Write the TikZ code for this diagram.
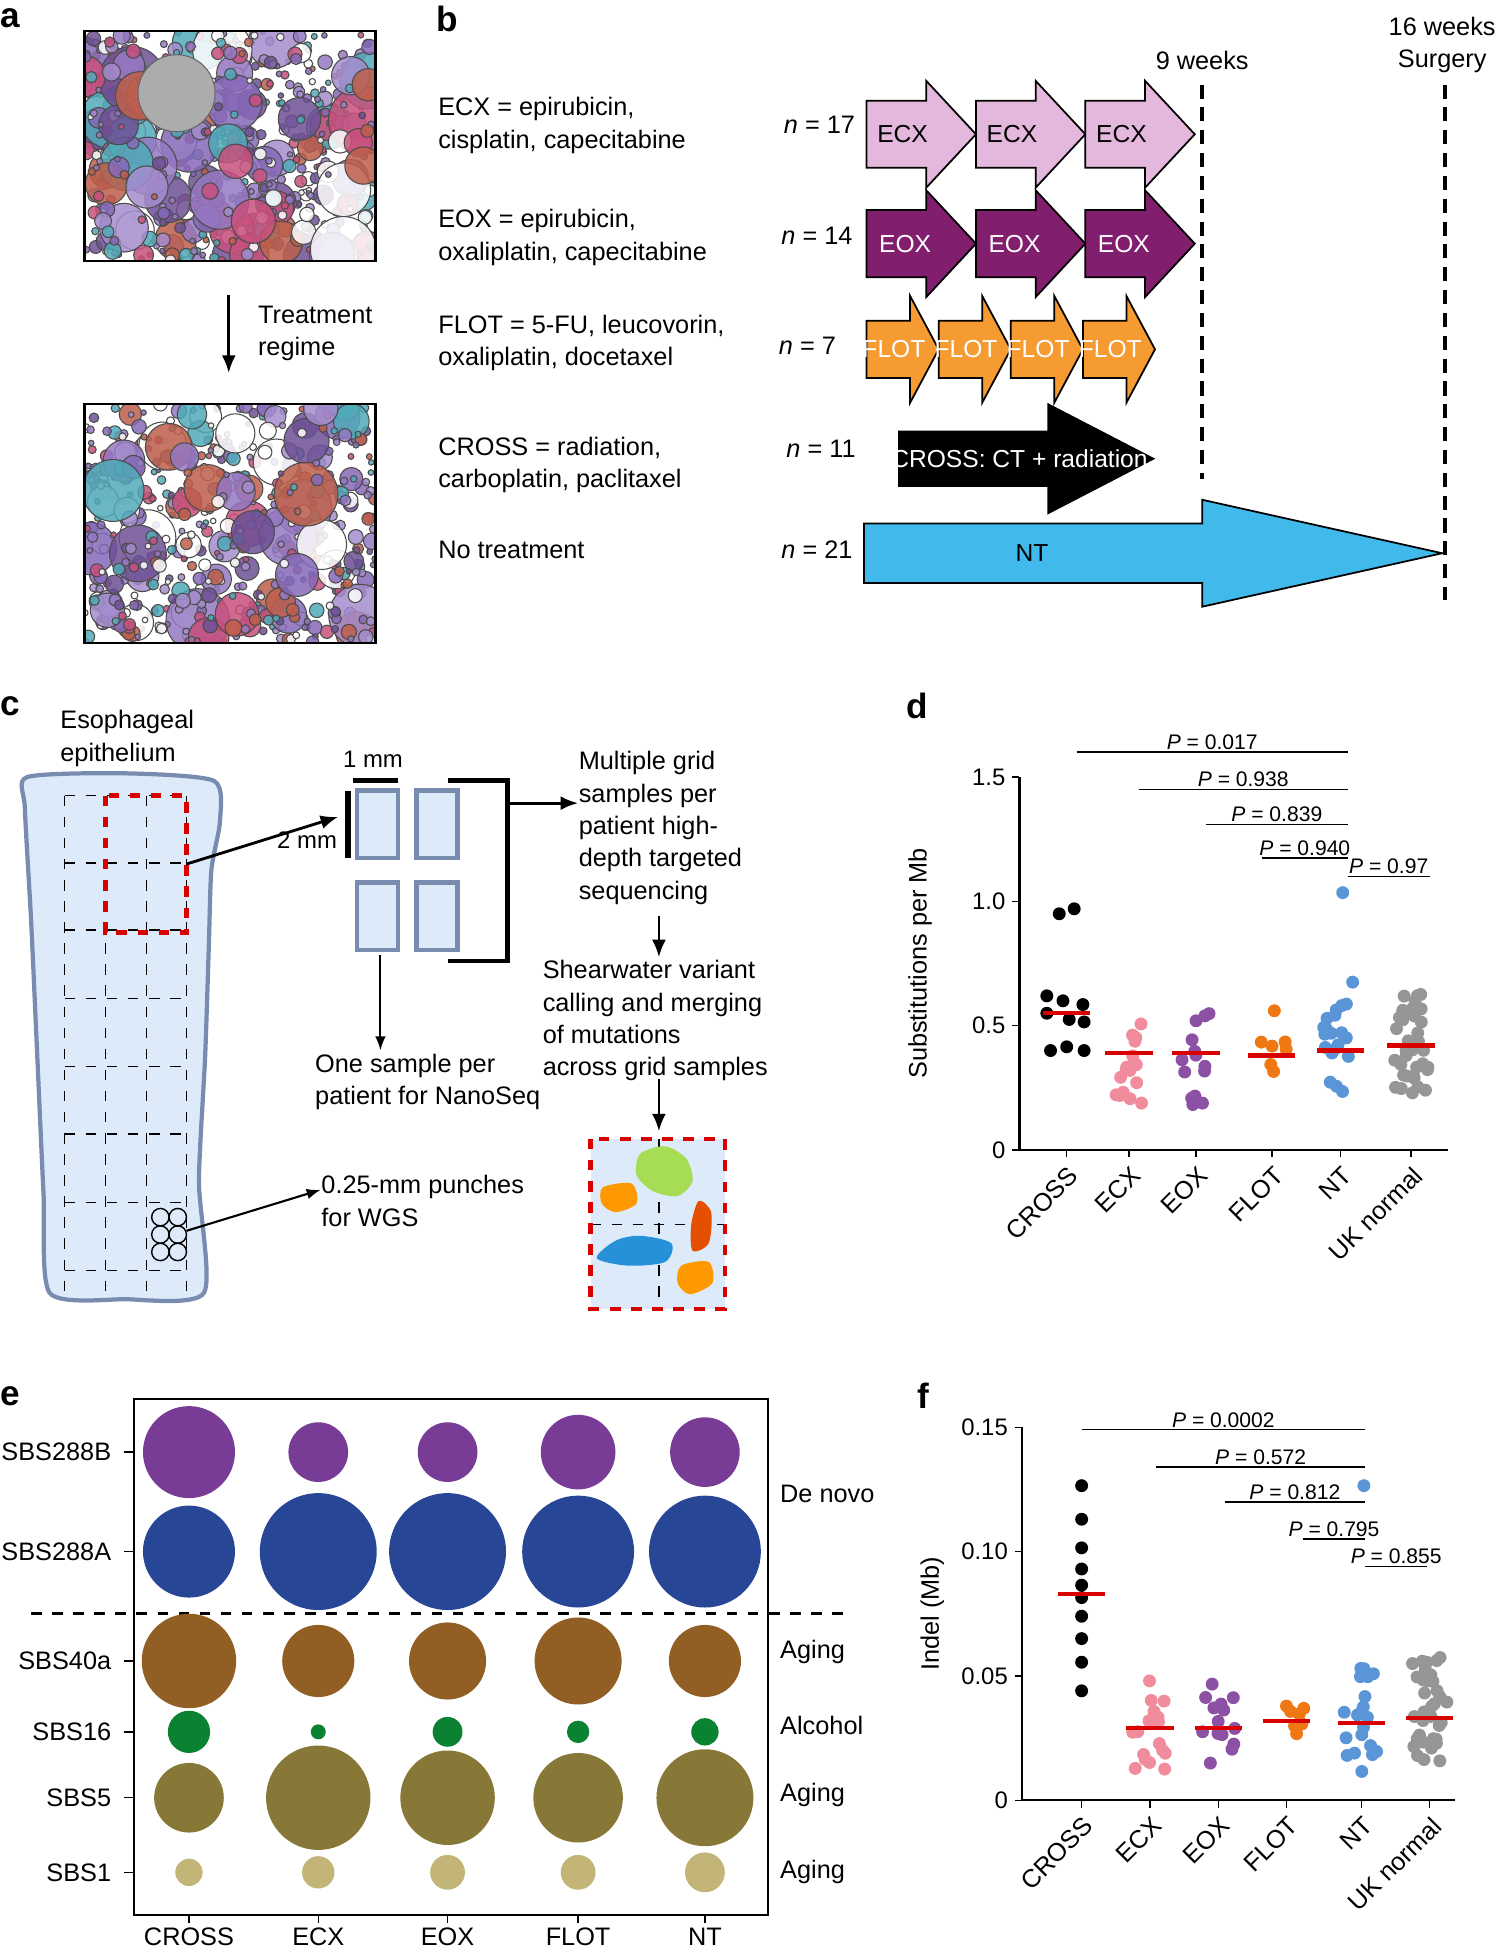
\documentclass[tikz,border=0pt]{standalone}
\usepackage{fontspec}
\setmainfont{Liberation Sans}
\usetikzlibrary{arrows.meta,positioning}

\definecolor{pa1}{RGB}{150,120,195}
\definecolor{pa2}{RGB}{190,95,75}
\definecolor{pa3}{RGB}{80,170,185}
\definecolor{pa4}{RGB}{200,80,125}
\definecolor{pa5}{RGB}{110,80,150}
\definecolor{pa6}{RGB}{255,255,255}
\definecolor{pa7}{RGB}{165,140,205}
\definecolor{pa8}{RGB}{135,105,185}
\definecolor{ecxc}{RGB}{228,184,220}
\definecolor{eoxc}{RGB}{130,30,110}
\definecolor{flotc}{RGB}{245,155,50}
\definecolor{ntc}{RGB}{65,185,235}
\definecolor{tissue}{RGB}{220,234,250}
\definecolor{tissued}{RGB}{120,140,175}
\definecolor{dk}{RGB}{0,0,0}
\definecolor{dpink}{RGB}{240,140,155}
\definecolor{dpurp}{RGB}{140,80,165}
\definecolor{dora}{RGB}{240,120,20}
\definecolor{dblue}{RGB}{90,150,215}
\definecolor{dgray}{RGB}{150,150,150}
\definecolor{s288b}{RGB}{120,60,150}
\definecolor{s288a}{RGB}{40,70,150}
\definecolor{s40a}{RGB}{145,95,35}
\definecolor{s16}{RGB}{10,130,50}
\definecolor{s5}{RGB}{135,120,55}
\definecolor{s1}{RGB}{195,180,120}

\tikzset{
  txt/.style={anchor=west, align=left, inner sep=0pt, font=\fontsize{7.2}{9.2}\selectfont},
  panel/.style={font=\bfseries\fontsize{10}{12}\selectfont, inner sep=0pt},
  tick/.style={font=\fontsize{6.8}{8}\selectfont, inner sep=1pt},
  pval/.style={font=\fontsize{6}{7}\selectfont, inner sep=0.5pt},
  arr/.style={-{Latex[length=5pt,width=4pt]}, thick},
  med/.style={red!85!black, line width=1.2pt},
}

% block arrow: x0, yc, length, head length, body half, head half, style, label, label x
\newcommand\regarrow[9]{%
  \draw[#7] ({#1},{#2-#5}) -- ({#1+#3-#4},{#2-#5}) -- ({#1+#3-#4},{#2-#6})
    -- ({#1+#3},{#2}) -- ({#1+#3-#4},{#2+#6}) -- ({#1+#3-#4},{#2+#5})
    -- ({#1},{#2+#5}) -- cycle;
  \node[font=\fontsize{7}{8}\selectfont, inner sep=0pt] at ({#1+#9},{#2}) {#8};}

% jittered dots: x centre, y centre, y spread, count, colour
\newcommand\dotgroup[5]{%
  \foreach \k in {1,...,#4}{
    \pgfmathsetmacro\dx{#1+rand*14}
    \pgfmathsetmacro\dy{#2+rand*#3}
    \fill[#5] (\dx,\dy) circle (5.2);
  }}

\begin{document}
\begin{tikzpicture}[x=0.012432cm, y=-0.012432cm]
\useasboundingbox (0,0) rectangle (1209,1571.7);

% ---------- panel a ----------
\node[panel] (la) at (8,15) {a};
\foreach \yt/\yb/\sd in {25/210/3, 325/517/11}{
  \begin{scope}
    \clip (68,\yt) rectangle (302,\yb);
    \fill[white] (68,\yt) rectangle (302,\yb);
    \pgfmathsetseed{\sd}
    \foreach \i in {1,...,560}{
      \pgfmathsetmacro\cx{68+rnd*234}
      \pgfmathsetmacro\cy{\yt+rnd*(\yb-\yt)}
      \pgfmathsetmacro\cr{2.2+4*rnd^2+22*rnd^12}
      \pgfmathtruncatemacro\cc{random(1,8)}
      \filldraw[fill=pa\cc, fill opacity=0.85, draw=black!70, line width=0.3pt] (\cx,\cy) circle (\cr);
    }
  \end{scope}
  \draw[black, line width=0.6pt] (68,\yt) rectangle (302,\yb);
}
\filldraw[fill=gray!65, draw=black!60, line width=0.3pt] (142,75) circle (31);
\coordinate (atop) at (184,237);
\coordinate (abot) at (184,300);
\draw[arr] (atop) -- (abot);
\node[txt] (treg) at (207,268) {Treatment\\regime};

% ---------- panel b ----------
\node[panel] (lb) at (360,15) {b};
\node[txt] (tecx) at (352,101) {ECX = epirubicin,\\cisplatin, capecitabine};
\node[txt] (teox) at (352,191) {EOX = epirubicin,\\oxaliplatin, capecitabine};
\node[txt] (tflot) at (352,276) {FLOT = 5-FU, leucovorin,\\oxaliplatin, docetaxel};
\node[txt] (tcross) at (352,374) {CROSS = radiation,\\carboplatin, paclitaxel};
\node[txt] (tnt) at (352,442) {No treatment};
\node[txt] (necx) at (630,100) {\textit{n} = 17};
\node[txt] (neox) at (628,190) {\textit{n} = 14};
\node[txt] (nflot) at (626,278) {\textit{n} = 7};
\node[txt] (ncross) at (632,361) {\textit{n} = 11};
\node[txt] (nnt) at (628,442) {\textit{n} = 21};

\foreach \x in {697,785,873}{
  \regarrow{\x}{108}{88}{40}{27}{43}{fill=ecxc, draw=black, line width=0.5pt}{ECX}{29}
  \regarrow{\x}{196}{88}{40}{27}{43}{fill=eoxc, draw=black, line width=0.5pt}{\color{white}EOX}{31}
}
\foreach \x in {697,755,813,871}{
  \regarrow{\x}{281}{58}{23}{23}{43}{fill=flotc, draw=black, line width=0.5pt}{\color{white}FLOT}{22}
}
\regarrow{723}{369}{205}{85}{22}{44}{fill=black}{\color{white}CROSS: CT + radiation}{97}
\regarrow{695}{445}{465}{193}{24}{43}{fill=ntc, draw=black, line width=0.5pt}{NT}{135}

\coordinate (w9a) at (967,68);   \coordinate (w9b) at (967,385);
\coordinate (w16a) at (1162,68); \coordinate (w16b) at (1162,483);
\draw[line width=1.2pt, dash pattern=on 4pt off 2.5pt] (w9a) -- (w9b);
\draw[line width=1.2pt, dash pattern=on 4pt off 2.5pt] (w16a) -- (w16b);
\node[txt, anchor=center] (l9) at (967,49) {9 weeks};
\node[txt, anchor=center, align=center] (l16) at (1160,36) {16 weeks\\Surgery};

% ---------- panel c ----------
\node[panel] (lc) at (8,568) {c};
\node[txt] (tepi) at (48,594) {Esophageal\\epithelium};
\filldraw[fill=tissue, draw=tissued, line width=1.2pt]
  plot[smooth cycle, tension=0.4] coordinates {(22,625) (100,622) (172,628) (177,660) (170,700)
  (168,760) (165,850) (160,950) (164,1040) (100,1045) (40,1040) (35,960) (30,850) (25,740) (20,650)};
\foreach \x in {52,85,118,150} \draw[dashed, line width=0.4pt] (\x,640) -- (\x,1040);
\foreach \y in {640,694,748,803,858,912,967,1022} \draw[dashed, line width=0.4pt] (52,\y) -- (150,\y);
\draw[red!85!black, dashed, line width=1.3pt] (85,640) rectangle (150,750);
\foreach \x in {129,143} \foreach \y in {979,993,1007} \draw[line width=0.4pt] (\x,\y) circle (7);
\coordinate (cbox) at (150,695);
\coordinate (cpun) at (150,990);

\foreach \x/\y in {287/636,335/636,287/710,335/710}
  \filldraw[fill=tissue, draw=tissued, line width=1.3pt] (\x,\y) rectangle ++(33,54);
\draw[line width=1.5pt] (284,628) -- (320,628);
\node[tick] (l1mm) at (300,611) {1 mm};
\draw[line width=1.5pt] (280,636) -- (280,690);
\node[tick] (l2mm) at (247,676) {2 mm};
\coordinate (cgrid) at (272,657);
\draw[arr] (cbox) -- (cgrid);
\draw[line width=1.3pt] (360,628) -- (408,628) -- (408,773) -- (360,773);
\coordinate (cbr) at (408,646);
\node[txt] (tmult) at (465,666) {Multiple grid\\samples per\\patient high-\\depth targeted\\sequencing};
\draw[arr] (cbr) -- (tmult.west |- cbr);
\node[txt] (tshear) at (436,821) {Shearwater variant\\calling and merging\\of mutations\\across grid samples};
\draw[arr] (530,737) -- (530,770);
\draw[arr] (530,868) -- (530,910);
\node[txt] (tnano) at (253,870) {One sample per\\patient for NanoSeq};
\draw[-{Latex[length=4pt,width=3pt]}, line width=0.6pt] (306,768) -- (306,845);
\node[txt] (twgs) at (258,966) {0.25-mm punches\\for WGS};
\draw[-{Latex[length=4pt,width=3pt]}, line width=0.6pt] (cpun) -- (twgs.west |- 0,957);

\fill[tissue] (475,916) rectangle (583,1053);
\draw[dashed, line width=0.5pt] (530,916) -- (530,1053);
\draw[dashed, line width=0.5pt] (475,985) -- (583,985);
\fill[green!45!gray!60!yellow!80] plot[smooth cycle] coordinates {(515,928) (535,922) (552,932) (557,950) (545,962) (525,958) (512,945)};
\fill[orange!80!yellow] plot[smooth cycle] coordinates {(485,955) (508,952) (512,968) (495,975) (484,968)};
\fill[orange!70!red!90!black] plot[smooth cycle] coordinates {(562,966) (572,975) (570,1000) (557,1006) (556,985)};
\fill[blue!40!cyan!70!gray] plot[smooth cycle] coordinates {(480,1012) (495,998) (515,994) (540,1000) (535,1015) (505,1018)};
\fill[orange!80!yellow] plot[smooth cycle] coordinates {(548,1018) (570,1015) (573,1032) (555,1041) (545,1032)};
\draw[red!85!black, dashed, line width=1.3pt] (475,916) rectangle (583,1053);

% ---------- panel d ----------
\node[panel] (ld) at (738,568) {d};
\draw[line width=0.6pt] (820,625) -- (820,925) -- (1165,925);
\foreach \v/\l in {0/0,0.5/0.5,1.0/1.0,1.5/1.5}{
  \draw (814,925-200*\v) -- (820,925-200*\v);
  \node[tick, anchor=east] at (812,925-200*\v) {\l};
}
\node[txt, anchor=center, rotate=90] (ydl) at (740,775) {Substitutions per Mb};
\foreach \x/\l in {858/CROSS,908/ECX,962/EOX,1023/FLOT,1078/NT,1135/UK normal}{
  \draw (\x,925) -- (\x,931);
  \node[txt, rotate=45, anchor=east] at (\x+6,942) {\l};
}
\foreach \x/\y in {852/735, 864/731, 842/801, 855/805, 871/808, 842/815, 860/820, 872/822, 845/845, 858/842, 872/845}
  \fill[dk] (\x,\y) circle (5.2);
\pgfmathsetseed{7}
\dotgroup{908}{850}{38}{17}{dpink}
\dotgroup{962}{850}{40}{14}{dpurp}
\dotgroup{1023}{850}{12}{6}{dora}
\fill[dora] (1025,813) circle (5.2);
\dotgroup{1078}{840}{38}{19}{dblue}
\fill[dblue] (1080,718) circle (5.2);
\fill[dblue] (1088,790) circle (5.2);
\dotgroup{1135}{840}{42}{35}{dgray}
\foreach \x/\y in {858/815,908/847,962/847,1023/849,1078/845,1135/841}
  \draw[med] (\x-19,\y) -- (\x+19,\y);
\foreach \a/\b/\y/\p in {866/1084/605/0.017, 916/1084/635/0.938, 970/1084/663/0.839, 1015/1084/690/0.940, 1084/1150/705/0.97}{
  \draw[line width=0.4pt] (\a,\y) -- (\b,\y);
  \node[pval, anchor=south] at ({(\a+\b)/2},\y) {\textit{P} = \p};
}

% ---------- panel e ----------
\node[panel] (le) at (8,1123) {e};
\draw[line width=0.6pt] (108,1125) rectangle (618,1540);
\draw[dashed, line width=0.8pt] (25,1298) -- (685,1298);
\foreach \y/\n in {1168/SBS288B,1248/SBS288A,1336/SBS40a,1393/SBS16,1446/SBS5,1506/SBS1}{
  \draw (100,\y) -- (108,\y);
  \node[txt, anchor=east] at (90,\y) {\n};
}
\foreach \x/\n in {152/CROSS,256/ECX,360/EOX,465/FLOT,567/NT}{
  \draw (\x,1540) -- (\x,1547);
  \node[txt, anchor=north] at (\x,1550) {\n};
}
\foreach \y/\c/\ra/\rb/\rc/\rd/\re in {1168/s288b/37/24/24/30/28, 1248/s288a/37/47/47/45/45,
  1336/s40a/38/29/31/35/29, 1393/s16/17/6/12/9/11, 1446/s5/28/42/38/36/39, 1506/s1/11/13/14/14/16}{
  \fill[\c] (152,\y) circle (\ra);
  \fill[\c] (256,\y) circle (\rb);
  \fill[\c] (360,\y) circle (\rc);
  \fill[\c] (465,\y) circle (\rd);
  \fill[\c] (567,\y) circle (\re);
}
\foreach \y/\t in {1202/De novo,1329/Aging,1388/Alcohol,1444/Aging,1506/Aging}
  \node[txt] at (627,\y) {\t};

% ---------- panel f ----------
\node[panel] (lf) at (743,1123) {f};
\draw[line width=0.6pt] (822,1148) -- (822,1448) -- (1170,1448);
\foreach \v/\l in {0/0,0.05/0.05,0.10/0.10,0.15/0.15}{
  \draw (816,1448-2000*\v) -- (822,1448-2000*\v);
  \node[tick, anchor=east] at (814,1448-2000*\v) {\l};
}
\node[txt, anchor=center, rotate=90] (yfl) at (750,1298) {Indel (Mb)};
\foreach \x/\l in {870/CROSS,925/ECX,980/EOX,1035/FLOT,1095/NT,1150/UK normal}{
  \draw (\x,1448) -- (\x,1454);
  \node[txt, rotate=45, anchor=east] at (\x+6,1465) {\l};
}
\foreach \y in {1195,1222,1245,1262,1275,1285,1300,1318,1337,1360}
  \fill[dk] (870,\y) circle (5.2);
\pgfmathsetseed{19}
\dotgroup{925}{1390}{40}{17}{dpink}
\dotgroup{980}{1388}{38}{14}{dpurp}
\dotgroup{1035}{1384}{12}{7}{dora}
\dotgroup{1095}{1380}{45}{20}{dblue}
\fill[dblue] (1097,1195) circle (5.2);
\dotgroup{1150}{1378}{45}{35}{dgray}
\foreach \x/\y in {870/1282,925/1390,980/1390,1035/1384,1095/1386,1150/1382}
  \draw[med] (\x-19,\y) -- (\x+19,\y);
\foreach \a/\b/\y/\p in {870/1098/1150/0.0002, 930/1098/1180/0.572, 985/1098/1208/0.812, 1048/1098/1238/0.795, 1098/1148/1260/0.855}{
  \draw[line width=0.4pt] (\a,\y) -- (\b,\y);
  \node[pval, anchor=south] at ({(\a+\b)/2},\y) {\textit{P} = \p};
}
\end{tikzpicture}
\end{document}
